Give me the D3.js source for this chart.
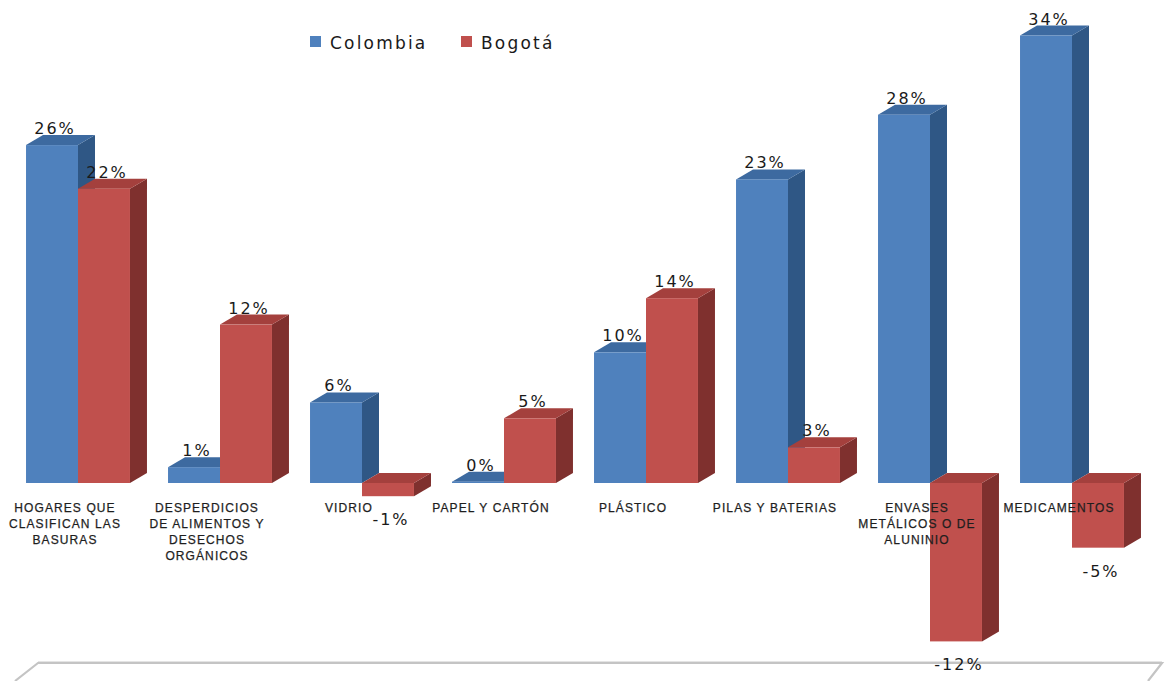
<!DOCTYPE html>
<html><head><meta charset="utf-8">
<script src="https://cdn.jsdelivr.net/npm/d3@7"></script>
<style>html,body{margin:0;padding:0;background:#fff;}</style>
</head><body>
<svg id="chart" width="1167" height="681"></svg>
<script>
const categories = ["HOGARES QUE CLASIFICAN LAS BASURAS","DESPERDICIOS DE ALIMENTOS Y DESECHOS ORGÁNICOS","VIDRIO","PAPEL Y CARTÓN","PLÁSTICO","PILAS Y BATERIAS","ENVASES METÁLICOS O DE ALUNINIO","MEDICAMENTOS"];
const categoryLines = [["HOGARES QUE","CLASIFICAN LAS","BASURAS"],["DESPERDICIOS","DE ALIMENTOS Y","DESECHOS","ORGÁNICOS"],["VIDRIO"],["PAPEL Y CARTÓN"],["PLÁSTICO"],["PILAS Y BATERIAS"],["ENVASES","METÁLICOS O DE","ALUNINIO"],["MEDICAMENTOS"]];
const seriesNames = ["Colombia","Bogotá"];
const colombia = [25.6, 1.2, 6.1, 0.1, 9.9, 23.0, 27.9, 33.9];
const bogota = [22.3, 12.0, -1.0, 4.9, 14.0, 2.7, -12.0, -4.9];

const svg = d3.select("#chart");
const W = 1167, H = 681;
const DX = 17, DY = -10;
const colors = {
  Colombia: {front:"#4f81bd", top:"#3d6aa0", side:"#2f5785"},
  "Bogotá": {front:"#c0504d", top:"#a4403d", side:"#7f302e"}
};

const x0 = d3.scaleBand().domain(categories).range([7, 1143]).paddingInner(0.268).paddingOuter(0.134);
const x1 = d3.scaleBand().domain(seriesNames).range([0, x0.bandwidth()]);
const y = d3.scaleLinear().domain([-13, 35]).range([483 + 13*13.2, 483 - 35*13.2]);

// floor
const fy = 663;
const floor = svg.append("g");
floor.append("path")
  .attr("d", `M15,${H} L38,${fy} L1162,${fy} L1148,${H}`)
  .attr("fill","none").attr("stroke","#c4c4c4").attr("stroke-width",2.2);
floor.append("path")
  .attr("d", `M38,${fy-1.5} L1162,${fy-1.5}`)
  .attr("fill","none").attr("stroke","#e4e4e4").attr("stroke-width",1);

const rows = [];
categories.forEach((c,i)=>{
  rows.push({cat:c, s:"Colombia", v:colombia[i]});
  rows.push({cat:c, s:"Bogotá", v:bogota[i]});
});

const bars = svg.append("g");
rows.forEach(d=>{
  const xl = x0(d.cat) + x1(d.s);
  const w = x1.bandwidth();
  const yt = y(Math.max(0,d.v)), yb = y(Math.min(0,d.v));
  const col = colors[d.s];
  const g = bars.append("g");
  g.append("path").attr("d",`M${xl+w},${yt} L${xl+w+DX},${yt+DY} L${xl+w+DX},${yb+DY} L${xl+w},${yb} Z`).attr("fill",col.side);
  g.append("path").attr("d",`M${xl},${yt} L${xl+DX},${yt+DY} L${xl+w+DX},${yt+DY} L${xl+w},${yt} Z`).attr("fill",col.top);
  g.append("rect").attr("x",xl).attr("y",yt).attr("width",w).attr("height",Math.max(0.5,yb-yt)).attr("fill",col.front);
});

// category labels
const labs = svg.append("g").attr("font-family","'Liberation Sans', Arial, sans-serif").attr("font-size","12px").attr("fill","#1e1e1e").attr("letter-spacing","1.1px").attr("stroke","#1e1e1e").attr("stroke-width",0.25);
categories.forEach((c,i)=>{
  const cx = x0(c) + x0.bandwidth()/2 - 13;
  const t = labs.append("text").attr("text-anchor","middle");
  categoryLines[i].forEach((ln,j)=>{
    t.append("tspan").attr("x",cx).attr("y",512 + j*16).text(ln);
  });
});

// data labels
const dl = svg.append("g").attr("font-family","'DejaVu Sans', sans-serif").attr("font-size","16px").attr("fill","#1a1a1a").attr("letter-spacing","2px");
rows.forEach(d=>{
  const xl = x0(d.cat) + x1(d.s);
  const cx = xl + x1.bandwidth()/2 + 3;
  const ty = d.v >= 0 ? y(d.v) - 11 : y(d.v) + 29;
  dl.append("text").attr("x",cx).attr("y",ty).attr("text-anchor","middle").text(Math.round(d.v) + "%");
});

// legend
const lg = svg.append("g").attr("font-family","'DejaVu Sans', sans-serif").attr("font-size","17px").attr("fill","#1a1a1a").attr("letter-spacing","2.2px");
const legX = [310, 461];
seriesNames.forEach((s,i)=>{
  lg.append("rect").attr("x",legX[i]).attr("y",36).attr("width",11).attr("height",11).attr("fill",colors[s].front);
  lg.append("text").attr("x",legX[i]+20).attr("y",49).text(s);
});
</script>
</body></html>
